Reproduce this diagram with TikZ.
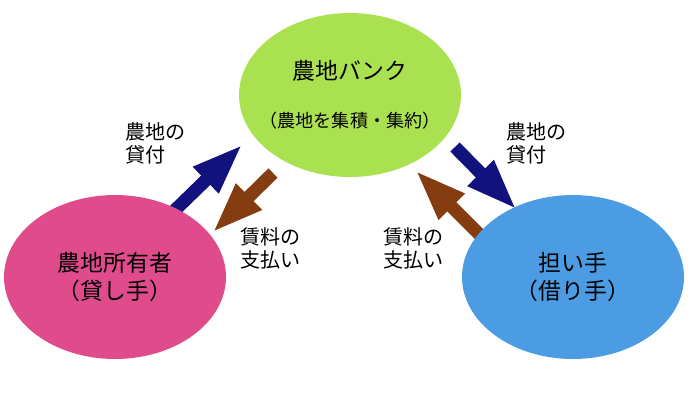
\documentclass[tikz,border=0pt]{standalone}
\usepackage{fontspec}
\setmainfont{Noto Sans CJK JP}
\usetikzlibrary{shapes,arrows.meta,positioning}
\definecolor{bankgreen}{HTML}{AAE150}
\definecolor{ownerpink}{HTML}{E04B8C}
\definecolor{farmerblue}{HTML}{4B9CE2}
\definecolor{lendnavy}{HTML}{12127F}
\definecolor{rentbrown}{HTML}{853C10}
\tikzset{
    state/.style ={ellipse, minimum width=4.44cm, minimum height=3.28cm, inner sep=0pt, align=center, font=\fontsize{13}{16.5}\selectfont},
    el/.style = {inner sep=0pt, anchor=west, align=left, font=\fontsize{11.4}{13}\selectfont},
    blk/.style = {line width=0.26cm, -{Triangle[length=1.04cm, width=0.66cm]}}
}

\begin{document}
\begin{tikzpicture}[x=0.02cm, y=-0.02cm]
    \useasboundingbox (0,0) rectangle (700,413);
    % arrow ends
    \coordinate (lendA) at (172,213);
    \coordinate (lendB) at (243,144);
    \coordinate (rentA) at (273,173);
    \coordinate (rentB) at (212,233);
    \coordinate (lendC) at (455,147);
    \coordinate (lendD) at (517,210);
    \coordinate (rentC) at (487,242);
    \coordinate (rentD) at (415,170);

    \path[blk, lendnavy] (lendA) edge (lendB);
    \path[blk, rentbrown] (rentA) edge (rentB);
    \path[blk, lendnavy] (lendC) edge (lendD);
    \path[blk, rentbrown] (rentC) edge (rentD);

    \node[state, fill=bankgreen, inner xsep=-0.4cm] (bank) at (350,95) {農地バンク\\[11pt]{\fontsize{10.3}{12}\selectfont （農地を集積・集約）}};
    \node[state, fill=ownerpink] (owner) at (115,277) {農地所有者\\（貸し手）};
    \node[state, fill=farmerblue] (farmer) at (573,277) {担い手\\（借り手）};

    \node[el] (lendL) at (125,143) {農地の\\貸付};
    \node[el] (rentL) at (240,248) {賃料の\\支払い};
    \node[el] (lendR) at (506,143) {農地の\\貸付};
    \node[el] (rentR) at (383,248) {賃料の\\支払い};

\end{tikzpicture}
\end{document}
